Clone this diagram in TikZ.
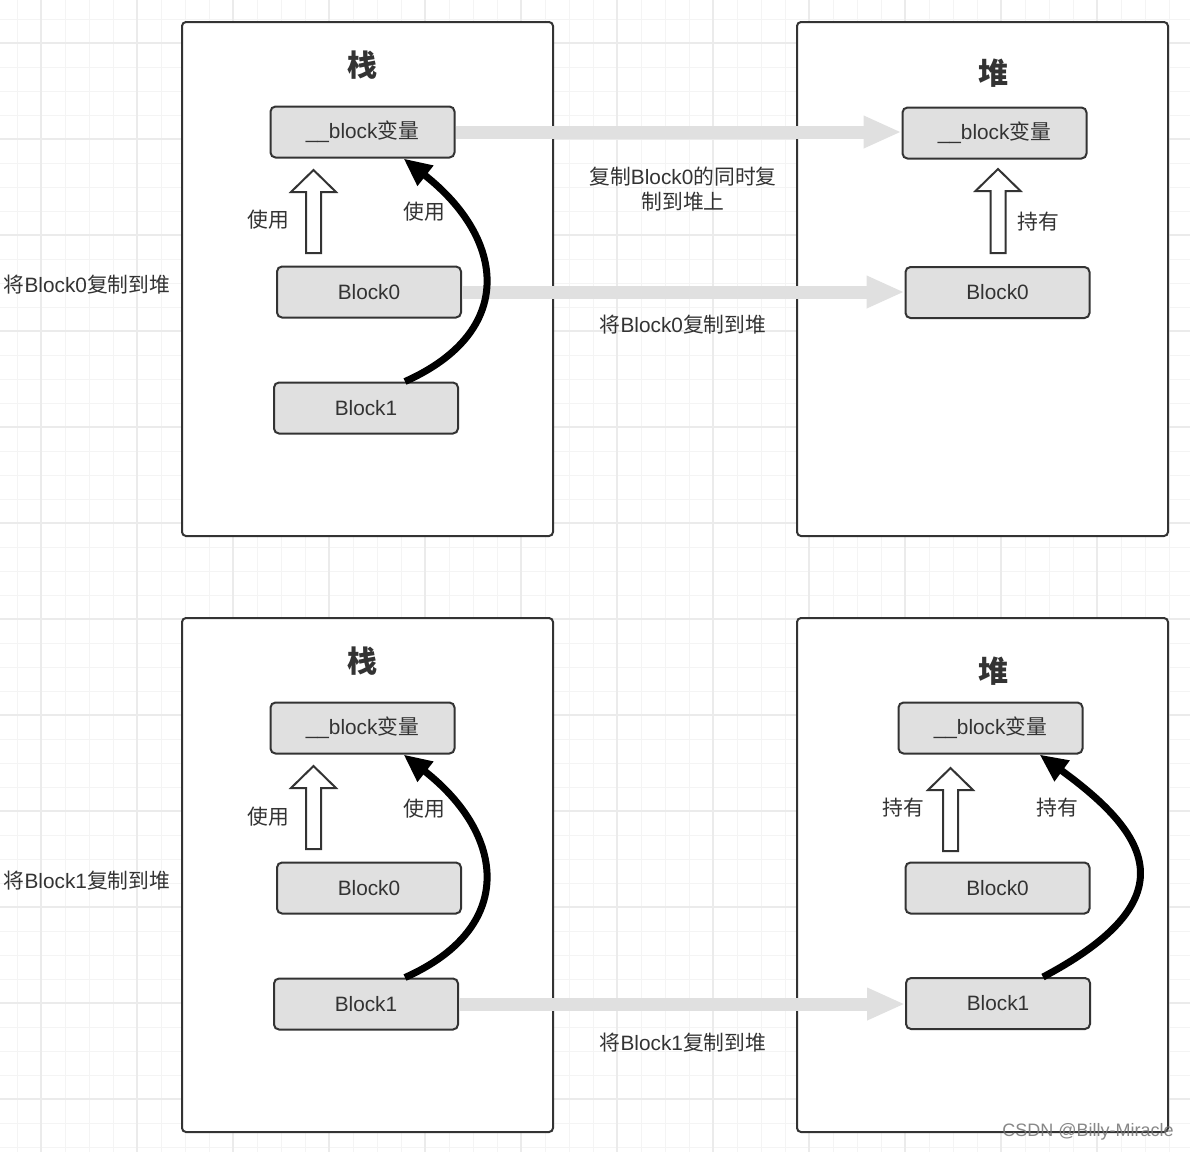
\documentclass[tikz,border=0pt]{standalone}
\usepackage{fontspec}
\setmainfont{Liberation Sans}
\newfontfamily\cjk{Noto Sans CJK SC}
\usetikzlibrary{arrows.meta,calc}
\definecolor{ink}{HTML}{333333}
\definecolor{boxfill}{HTML}{E0E0E0}
\definecolor{gridminor}{HTML}{F4F4F4}
\definecolor{gridmajor}{HTML}{EBEBEB}
\definecolor{conn}{HTML}{E0E0E0}
\newcommand\hollowarrow[3]{% x, bottom y, tip y
  \draw[hollow] (#1-7.5,#2) -- (#1+7.5,#2) -- (#1+7.5,#3+22) -- (#1+22.5,#3+22)
    -- (#1,#3) -- (#1-22.5,#3+22) -- (#1-7.5,#3+22) -- cycle;}
\begin{document}
\begin{tikzpicture}[x=1pt,y=-1pt,
  panel/.style={draw=ink, line width=2pt, fill=white, rounded corners=4pt},
  blk/.style={draw=ink, line width=2pt, fill=boxfill, rounded corners=5pt,
    minimum width=184pt, minimum height=51pt, inner sep=0pt, text=ink,
    font=\fontsize{20.8}{23}\selectfont},
  lbl/.style={text=ink, font=\fontsize{20.8}{25}\selectfont, inner sep=0pt, align=center},
  ttl/.style={text=ink, font=\fontsize{30}{34}\selectfont\cjk\bfseries, inner sep=0pt},
  copyarrow/.style={draw=conn, line width=13pt, -{Triangle[length=38pt,width=30pt]}},
  usearrow/.style={draw=black, line width=7pt, -{Triangle[length=28pt,width=24pt]}},
  hollow/.style={draw=ink, line width=2pt, fill=white, line join=miter},
]
\useasboundingbox (0,0) rectangle (1190,1152);
\fill[white] (0,0) rectangle (1190,1152);
% grid
\foreach \k in {0,...,49} \draw[gridminor, line width=1pt] ({17+24*\k},0) -- ({17+24*\k},1152);
\foreach \k in {0,...,47} \draw[gridminor, line width=1pt] (0,{19+24*\k}) -- (1190,{19+24*\k});
\foreach \k in {0,...,12} \draw[gridmajor, line width=1.3pt] ({41+96*\k},0) -- ({41+96*\k},1152);
\foreach \k in {0,...,11} \draw[gridmajor, line width=1.3pt] (0,{43+96*\k}) -- (1190,{43+96*\k});

% panels
\draw[panel] (182,22) rectangle (553,536);
\draw[panel] (797,22) rectangle (1168,536);
\draw[panel] (182,618) rectangle (553,1132);
\draw[panel] (797,618) rectangle (1168,1132);

% titles
\node[ttl] (t1) at (362,65) {栈};
\node[ttl] (t2) at (993,73) {堆};
\node[ttl] (t3) at (362,661) {栈};
\node[ttl] (t4) at (993,671) {堆};

% top-left boxes
\node[blk] (bv1) at (362.5,132) {\_\_block{\cjk 变量}};
\node[blk] (b01) at (369,292) {Block0};
\node[blk] (b11) at (366,408) {Block1};
% top-right boxes
\node[blk] (hv1) at (994.5,133) {\_\_block{\cjk 变量}};
\node[blk] (h01) at (997.5,292.5) {Block0};
% bottom-left boxes
\node[blk] (bv2) at (362.5,728) {\_\_block{\cjk 变量}};
\node[blk] (b02) at (369,888) {Block0};
\node[blk] (b12) at (366,1004) {Block1};
% bottom-right boxes
\node[blk] (hv2) at (990.5,728) {\_\_block{\cjk 变量}};
\node[blk] (h02) at (997.5,888) {Block0};
\node[blk] (h12) at (998,1003.5) {Block1};

% copy arrows
\draw[copyarrow] (bv1.east) -- (bv1.east -| hv1.west);
\draw[copyarrow] (b01.east) -- (b01.east -| h01.west);
\draw[copyarrow] (b12.east) -- (b12.east -| h12.west);

% hollow arrows
\hollowarrow{313.5}{253}{170}
\hollowarrow{998}{253}{169}
\hollowarrow{313.5}{849}{766}
\hollowarrow{950.5}{851}{768}

% curved use arrows
\draw[usearrow] ($(b11.north)+(39,0)$) .. controls +(112,-50) and +(102,80) .. ($(bv1.south)+(41,0)$);
\draw[usearrow] ($(b12.north)+(39,0)$) .. controls +(112,-50) and +(102,80) .. ($(bv2.south)+(41,0)$);
\draw[usearrow] ($(h12.north)+(45,0)$) .. controls +(147,-78) and +(110,80) .. ($(hv2.south)+(49,0)$);

% labels
\node[lbl] (u1) at (268,220) {\cjk 使用};
\node[lbl] (u2) at (424,212) {\cjk 使用};
\node[lbl] (k1) at (1038,222) {\cjk 持有};
\node[lbl] (u3) at (268,817) {\cjk 使用};
\node[lbl] (u4) at (424,809) {\cjk 使用};
\node[lbl] (k2) at (903,808) {\cjk 持有};
\node[lbl] (k3) at (1057,808) {\cjk 持有};
\node[lbl] (m1) at (683,189.5) {{\cjk 复制}Block0{\cjk 的同时复}\\{\cjk 制到堆上}};
\node[lbl] (m2) at (683,325) {{\cjk 将}Block0{\cjk 复制到堆}};
\node[lbl] (m3) at (683,1043) {{\cjk 将}Block1{\cjk 复制到堆}};
\node[lbl] (s1) at (87,285) {{\cjk 将}Block0{\cjk 复制到堆}};
\node[lbl] (s2) at (87,881) {{\cjk 将}Block1{\cjk 复制到堆}};

% watermark
\node[text=black!55, opacity=0.85, font=\fontsize{18}{20}\selectfont, inner sep=0pt] (wm) at (1088,1132) {CSDN @Billy-Miracle};
\end{tikzpicture}
\end{document}
